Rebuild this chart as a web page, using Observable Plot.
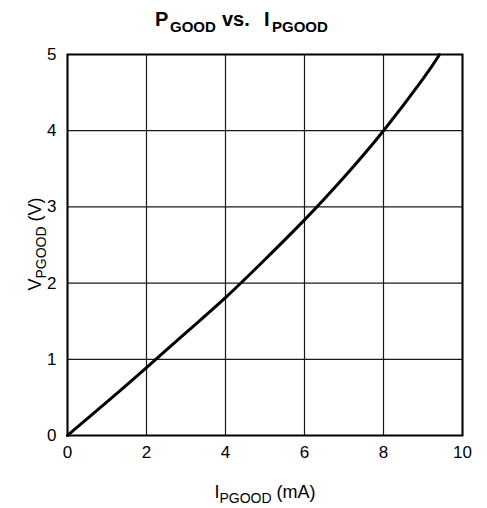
<!DOCTYPE html>
<html>
<head>
<meta charset="utf-8">
<script src="https://cdn.jsdelivr.net/npm/d3@7"></script>
<script src="https://cdn.jsdelivr.net/npm/@observablehq/plot@0.6"></script>
<style>
  html, body { margin: 0; padding: 0; background: #fff; }
  svg { display: block; }
</style>
</head>
<body>
<div id="chart"></div>
<script>
// Data
const currentMA = [0, 1, 2, 3, 4, 5, 6, 7, 8, 9, 9.42];
const voltageV  = [0, 0.44, 0.89, 1.35, 1.81, 2.31, 2.83, 3.39, 4.0, 4.68, 5];
const xTicks = [0, 2, 4, 6, 8, 10];
const yTicks = [0, 1, 2, 3, 4, 5];

const data = currentMA.map((x, i) => ({ x, y: voltageV[i] }));
const font = "'Liberation Sans', Arial, Helvetica, sans-serif";

const svg = Plot.plot({
  width: 487,
  height: 508,
  marginTop: 54,
  marginBottom: 73,
  marginLeft: 67,
  marginRight: 25,
  style: { fontFamily: font, fontSize: "17px", color: "#000", background: "#fff" },
  x: { domain: [0, 10], label: null },
  y: { domain: [0, 5], label: null },
  marks: [
    Plot.gridX(xTicks, { stroke: "#000", strokeOpacity: 0.9, strokeWidth: 1.2 }),
    Plot.gridY(yTicks, { stroke: "#000", strokeOpacity: 0.9, strokeWidth: 1.2 }),
    Plot.frame({ stroke: "#000", strokeWidth: 2 }),
    Plot.axisX(xTicks, { tickSize: 0, tickPadding: 10, fontSize: 17, fill: "#000", tickFormat: d3.format("d") }),
    Plot.axisY(yTicks, { tickSize: 0, tickPadding: 11, fontSize: 17, fill: "#000", tickFormat: d3.format("d") }),
    Plot.line(data, { x: "x", y: "y", curve: "natural", stroke: "#000", strokeWidth: 3 })
  ]
});

const s = d3.select(svg);

function addText(parent, anchor) {
  return parent.append("text")
    .attr("text-anchor", anchor)
    .style("text-anchor", anchor)
    .style("font-family", font)
    .style("fill", "#000");
}

// Title: P_GOOD vs. I_PGOOD
const title = addText(s, "start").attr("y", 26).style("font-weight", "bold");
title.append("tspan").attr("x", 155).style("font-size", "20px").text("P");
title.append("tspan").attr("x", 170).attr("dy", 6).style("font-size", "15px").text("GOOD");
title.append("tspan").attr("x", 222).attr("dy", -6).style("font-size", "20px").text("vs.");
title.append("tspan").attr("x", 264).style("font-size", "20px").text("I");
title.append("tspan").attr("x", 272).attr("dy", 6).style("font-size", "15px").text("PGOOD");

// X axis label: I_PGOOD (mA)
const xl = addText(s, "middle").attr("x", 265).attr("y", 498);
xl.append("tspan").style("font-size", "18px").text("I");
xl.append("tspan").attr("dy", 5).style("font-size", "14px").text("PGOOD");
xl.append("tspan").attr("dy", -5).style("font-size", "18px").text(" (mA)");

// Y axis label: V_PGOOD (V)
const yl = addText(s, "middle").attr("transform", "translate(41,244) rotate(-90)");
yl.append("tspan").style("font-size", "18px").text("V");
yl.append("tspan").attr("dy", 5).style("font-size", "14px").text("PGOOD");
yl.append("tspan").attr("dy", -5).style("font-size", "18px").text(" (V)");

document.getElementById("chart").appendChild(svg);
</script>
</body>
</html>
